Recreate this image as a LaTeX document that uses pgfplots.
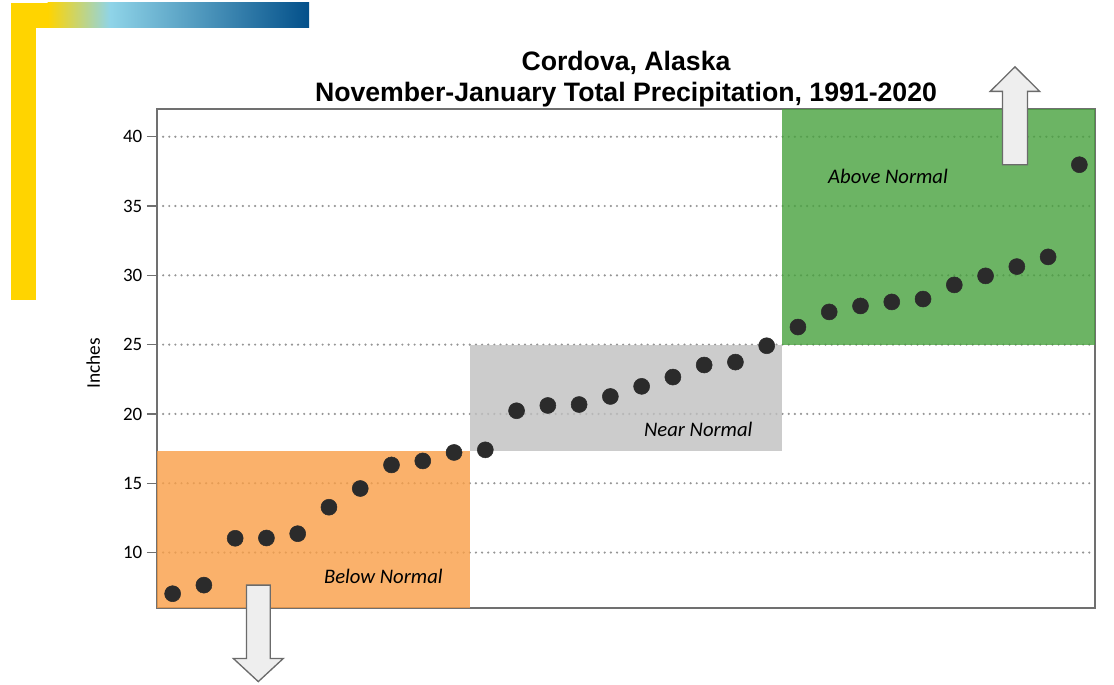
\documentclass[border=0pt]{standalone}
\usepackage{pgfplots}
\pgfplotsset{compat=1.18}
\usepackage{fontspec}
\setmainfont{Carlito}
\newfontfamily\titlefont{Liberation Sans}
\definecolor{gold}{HTML}{FFD400}
\definecolor{ltblue}{HTML}{8FD4E8}
\definecolor{dkblue}{HTML}{03508A}
\definecolor{orangefill}{RGB}{249,158,70}
\definecolor{greenfill}{RGB}{71,161,61}
\definecolor{grayfill}{RGB}{191,191,191}
\definecolor{ptcol}{HTML}{2B2B2B}
\definecolor{axisgray}{HTML}{707070}
\definecolor{gridgray}{HTML}{959595}
\definecolor{arrowfill}{HTML}{EEEEEE}
\definecolor{arrowdraw}{HTML}{6B6B6B}

\pgfplotstableread{
x y
1 7.03
2 7.65
3 11.03
4 11.05
5 11.36
6 13.27
7 14.62
8 16.32
9 16.61
10 17.22
11 17.41
12 20.23
13 20.61
14 20.68
15 21.26
16 21.99
17 22.66
18 23.53
19 23.74
20 24.92
21 26.27
22 27.36
23 27.79
24 28.08
25 28.29
26 29.31
27 29.96
28 30.63
29 31.33
30 37.98
}\precip

\begin{document}
\begin{tikzpicture}
\useasboundingbox (0,0) rectangle (835.5pt,513.75pt);
% decorative bars
\fill[gold] (8.25pt,492.75pt) rectangle (27pt,288.75pt);
\fill[gold] (8.25pt,492.75pt) rectangle (36pt,511.5pt);
\shade[left color=gold,right color=ltblue] (35.75pt,492.75pt) rectangle (82.6pt,511.5pt);
\shade[left color=ltblue,right color=dkblue] (82.5pt,492.75pt) rectangle (231.75pt,511.5pt);
% title
\node[anchor=base,font=\titlefont\bfseries\fontsize{20}{24}\selectfont] at (469.5pt,461pt) {Cordova, Alaska};
\node[anchor=base,font=\titlefont\bfseries\fontsize{20}{24}\selectfont] at (469.5pt,437.5pt) {November-January Total Precipitation, 1991-2020};
\begin{axis}[
  at={(117.75pt,57.75pt)}, anchor=south west,
  scale only axis, width=703.5pt, height=374.25pt,
  xmin=0.5, xmax=30.5, ymin=6, ymax=42,
  xtick=\empty,
  ytick={10,15,20,25,30,35,40},
  ytick pos=left,
  tick align=outside,
  major tick length=7.5pt,
  y tick style={draw=axisgray, line width=0.9pt},
  ymajorgrids,
  grid style={draw=gridgray, line width=1.8pt, line cap=round, dash pattern=on 0pt off 4.6pt},
  axis line style={draw=axisgray, line width=0.9pt},
  yticklabel style={font=\fontsize{14.2}{16}\selectfont, text=black},
  /pgf/number format/assume math mode=true,
  ylabel={Inches},
  ylabel style={at={(axis description cs:-0.068,0.49)}, anchor=center, font=\fontsize{14.5}{16}\selectfont, text=black},
  clip=false,
]
\addplot[draw=none, fill=orangefill, fill opacity=0.8] coordinates {(0.5,6) (10.5,6) (10.5,17.3) (0.5,17.3)} -- cycle;
\addplot[draw=none, fill=grayfill, fill opacity=0.8] coordinates {(10.5,17.3) (20.5,17.3) (20.5,25) (10.5,25)} -- cycle;
\addplot[draw=none, fill=greenfill, fill opacity=0.8] coordinates {(20.5,25) (30.5,25) (30.5,42) (20.5,42)} -- cycle;

\node[font=\itshape\fontsize{15.5}{18}\selectfont] at (axis cs:7.74,8.25) {Below Normal};
\node[font=\itshape\fontsize{15.5}{18}\selectfont] at (axis cs:17.81,18.85) {Near Normal};
\node[font=\itshape\fontsize{15.5}{18}\selectfont] at (axis cs:23.88,37.15) {Above Normal};

% arrows
\draw[fill=arrowfill, draw=arrowdraw, line width=1pt, line join=miter]
  (axis cs:3.36,7.65) -- (axis cs:4.12,7.65) -- (axis cs:4.12,2.36) -- (axis cs:4.54,2.36)
  -- (axis cs:3.74,0.69) -- (axis cs:2.94,2.36) -- (axis cs:3.36,2.36) -- cycle;
\draw[fill=arrowfill, draw=arrowdraw, line width=1pt, line join=miter]
  (axis cs:27.54,37.98) -- (axis cs:28.34,37.98) -- (axis cs:28.34,43.27) -- (axis cs:28.73,43.27)
  -- (axis cs:27.94,45.04) -- (axis cs:27.15,43.27) -- (axis cs:27.54,43.27) -- cycle;

\addplot[only marks, mark=*, mark size=6pt, mark options={fill=ptcol, draw=ptcol}] table[x=x,y=y] {\precip};
\end{axis}
\end{tikzpicture}
\end{document}
